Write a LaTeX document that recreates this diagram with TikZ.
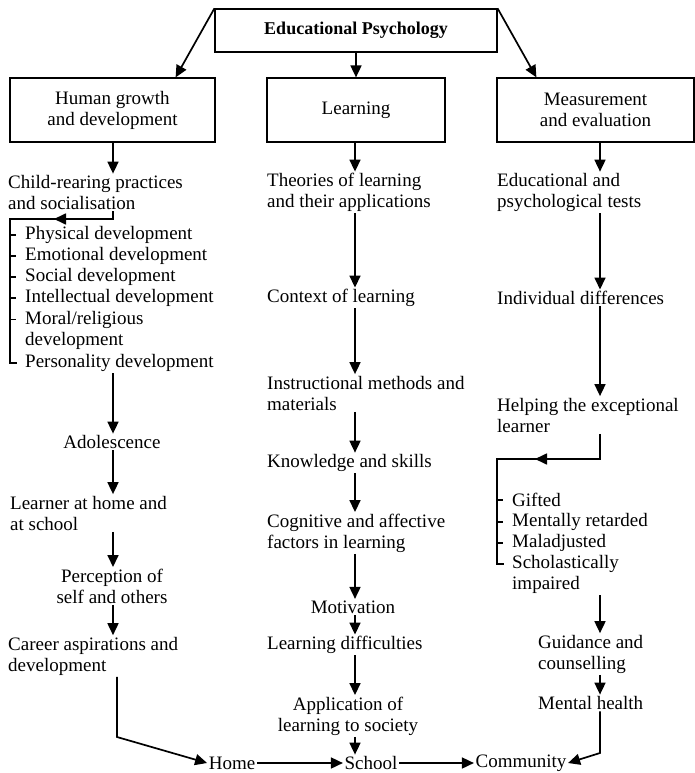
\documentclass[tikz,border=0pt]{standalone}
\usepackage{fontspec}
\setmainfont{Liberation Serif}
\usepackage{tikz}
\usetikzlibrary{arrows.meta}
\usetikzlibrary{positioning}

\begin{document}
\begin{tikzpicture}[x=1pt, y=-1pt,
    every node/.style={font=\fontsize{19}{21}\selectfont},
    arr/.style={-{Triangle[length=12pt,width=11pt]}, line width=1.7pt},
    brk/.style={line width=1.1pt},
    box/.style={draw, line width=1.2pt, align=center, inner sep=0pt},
    txt/.style={align=left, anchor=west, inner sep=1.5pt},
    ctr/.style={align=center, inner sep=1.5pt}]
   \useasboundingbox (0,0) rectangle (695,773);
   % boxes
   \node[box, minimum width=282pt, minimum height=43pt,
         font=\fontsize{18}{20}\selectfont\bfseries] (edpsy) at (356,30.5) {Educational Psychology};
   \node[box, minimum width=205pt, minimum height=64pt] (hg) at (112.5,110) {Human growth\\and development};
   \node[box, minimum width=178pt, minimum height=64pt] (learn) at (356,110) {Learning};
   \node[box, minimum width=197pt, minimum height=64pt] (meas) at (595.5,110) {Measurement\\and evaluation};
   \draw[arr] (edpsy.north west) -- ([xshift=-40pt]hg.north east);
   \draw[arr] (edpsy.south) -- (learn.north);
   \draw[arr] (edpsy.north east) -- ([xshift=40pt]meas.north west);

   \coordinate (colL) at (113,0);
   \coordinate (colM) at (355,0);
   \coordinate (colR) at (600,0);

   % human growth column
   \node[txt] (crp) at (6.5,192.5) {Child-rearing practices\\and socialisation};
   \node[txt] (phys) at (23.5,235) {Physical development};
   \node[txt] (emo) at (23.5,256) {Emotional development};
   \node[txt] (soc) at (23.5,277) {Social development};
   \node[txt] (intel) at (23.5,298) {Intellectual development};
   \node[txt] (moral) at (23.5,330) {Moral/religious\\development};
   \node[txt] (pers) at (23.5,363) {Personality development};
   \node[ctr] (adol) at (112,442) {Adolescence};
   \node[txt] (lhome) at (8.5,513) {Learner at home and\\at school};
   \node[ctr] (percep) at (112,586) {Perception of\\self and others};
   \node[txt] (career) at (6.5,656) {Career aspirations and\\development};
   \coordinate (lbrk) at (10,219);
   \draw[arr] (hg.south -| colL) -- (crp.north -| colL);
   \draw[arr] (crp.south -| colL) |- ([xshift=44pt]lbrk);
   \draw[brk] ([xshift=46pt]lbrk) -- (lbrk) |- ([xshift=-7pt]pers.west);
   \foreach \n in {phys,emo,soc,intel}
     \draw[brk] (\n.west -| lbrk) -- ++(6,0);
   \draw[brk] ([yshift=10.5pt]moral.west -| lbrk) -- ++(6,0);
   \draw[arr] (pers.south -| colL) -- (adol.north -| colL);
   \draw[arr] (adol.south -| colL) -- (lhome.north -| colL);
   \draw[arr] (lhome.south -| colL) -- (percep.north -| colL);
   \draw[arr] (percep.south -| colL) -- (career.north -| colL);

   % learning column
   \node[txt] (theo) at (265.5,192.5) {Theories of learning\\and their applications};
   \node[txt] (context) at (265.5,298) {Context of learning};
   \node[txt] (instr) at (265.5,393) {Instructional methods and\\materials};
   \node[txt] (know) at (265.5,463) {Knowledge and skills};
   \node[txt] (cogn) at (265.5,533) {Cognitive and affective\\factors in learning};
   \node[ctr] (motiv) at (353,607) {Motivation};
   \node[txt] (diff) at (265.5,645) {Learning difficulties};
   \node[ctr] (appl) at (348,716) {Application of\\learning to society};
   \draw[arr] (learn.south -| colM) -- (theo.north -| colM);
   \draw[arr] (theo.south -| colM) -- (context.north -| colM);
   \draw[arr] (context.south -| colM) -- (instr.north -| colM);
   \draw[arr] (instr.south -| colM) -- (know.north -| colM);
   \draw[arr] (know.south -| colM) -- (cogn.north -| colM);
   \draw[arr] (cogn.south -| colM) -- (motiv.north -| colM);
   \draw[arr] (motiv.south -| colM) -- (diff.north -| colM);
   \draw[arr] (diff.south -| colM) -- (appl.north -| colM);

   % measurement column
   \node[txt] (edt) at (495.5,192.5) {Educational and\\psychological tests};
   \node[txt] (indiv) at (495.5,298) {Individual differences};
   \node[txt] (help) at (495.5,415) {Helping the exceptional\\learner};
   \node[txt] (gifted) at (510.5,500) {Gifted};
   \node[txt] (ment) at (510.5,522) {Mentally retarded};
   \node[txt] (malad) at (510.5,543) {Maladjusted};
   \node[txt] (schol) at (510.5,574.5) {Scholastically\\impaired};
   \node[txt] (guid) at (536.5,654) {Guidance and\\counselling};
   \node[txt] (mental) at (536.5,703) {Mental health};
   \coordinate (rbrk) at (497,459);
   \draw[arr] (meas.south -| colR) -- (edt.north -| colR);
   \draw[arr] (edt.south -| colR) -- (indiv.north -| colR);
   \draw[arr] (indiv.south -| colR) -- (help.north -| colR);
   \draw[arr] (help.south -| colR) |- ([xshift=38pt]rbrk);
   \draw[brk] ([xshift=40pt]rbrk) -- (rbrk) |- ([xshift=-7pt,yshift=10.5pt]schol.west);
   \foreach \n in {gifted,ment,malad}
     \draw[brk] (\n.west -| rbrk) -- ++(6,0);
   \draw[arr] (schol.south -| colR) -- (guid.north -| colR);
   \draw[arr] (guid.south -| colR) -- (mental.north -| colR);

   % bottom row
   \node[inner sep=1.5pt] (home) at (232,763) {Home};
   \node[inner sep=1.5pt] (school) at (371,763) {School};
   \node[inner sep=1.5pt] (comm) at (521,763) {Community};
   \coordinate (cbend) at (117,737);
   \coordinate (mbend) at (600,753);
   \draw[arr] (career.south -| cbend) -- (cbend) -- (home.west);
   \draw[arr] (appl.south -| colM) -- (school.north -| colM);
   \draw[arr] (home.east) -- (school.west);
   \draw[arr] (school.east) -- (comm.west);
   \draw[arr] (mental.south -| mbend) -- (mbend) -- (comm.east);
\end{tikzpicture}
\end{document}
